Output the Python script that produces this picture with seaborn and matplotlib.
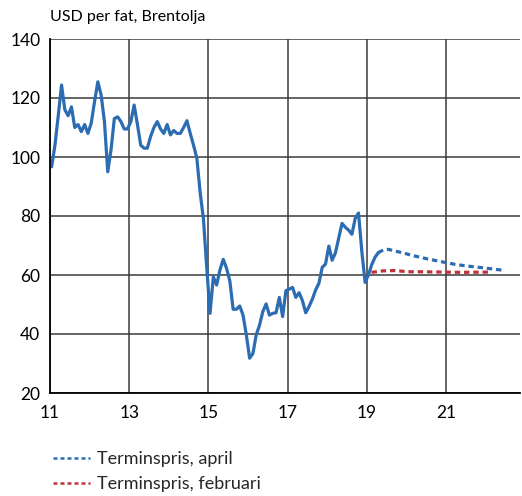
import numpy as np
import pandas as pd
import matplotlib
matplotlib.use("Agg")
import matplotlib.pyplot as plt
import seaborn as sns

# Brent crude, monthly averages Jan 2011 - Apr 2019 (USD per barrel)
brent_2011 = [96.7, 104, 114, 124.4, 116, 114, 117, 110, 111, 108.6, 111, 108]
brent_2012 = [111.5, 118.8, 125.5, 121, 112, 95, 102.5, 113, 113.6, 112, 109.5, 109.5]
brent_2013 = [112, 117.6, 111, 104, 103, 103, 107, 110, 112, 109.5, 108, 111]
brent_2014 = [107.5, 109, 108, 108, 110, 112.3, 108, 104, 99.6, 88, 79, 62.5]
brent_2015 = [47, 59.4, 56.6, 61.7, 65.3, 62.3, 58, 48.4, 48.4, 49.5, 46.4, 39.7]
brent_2016 = [31.8, 33.4, 39.7, 43, 47.6, 50.2, 46.4, 47, 47.2, 52.4, 45.9, 54.7]
brent_2017 = [55.2, 55.8, 52.4, 54, 51.3, 47.2, 49.3, 51.8, 54.9, 57.2, 62.6, 63.7]
brent_2018 = [69.8, 65, 67.5, 72.5, 77.5, 76.2, 75.2, 73.8, 79.2, 81, 68, 57.5]
brent_2019 = [60, 63.5, 66, 67.6]

# Futures curves (time in years, 11 = 2011)
april_t = [19.29, 19.42, 19.54, 19.88, 20.22, 20.55, 20.89, 21.23, 21.56, 21.90, 22.45]
april_v = [67.6, 68.5, 68.7, 67.6, 66.4, 65.4, 64.5, 63.6, 63.0, 62.5, 61.6]
feb_t = [19.12, 19.42, 19.71, 20.05, 20.39, 20.89, 21.40, 22.15]
feb_v = [60.9, 61.4, 61.5, 61.1, 61.1, 61.0, 60.9, 61.0]

x_ticks = [11, 13, 15, 17, 19, 21]
y_ticks = [20, 40, 60, 80, 100, 120, 140]

brent = (brent_2011 + brent_2012 + brent_2013 + brent_2014 + brent_2015
         + brent_2016 + brent_2017 + brent_2018 + brent_2019)
hist = pd.DataFrame({"t": 11 + (np.arange(len(brent)) + 0.5) / 12, "v": brent})
fut_apr = pd.DataFrame({"t": april_t, "v": april_v})
fut_feb = pd.DataFrame({"t": feb_t, "v": feb_v})

sns.set_theme(style="white")
plt.rcParams["font.family"] = ["Lato", "DejaVu Sans"]

BLUE = "#2C6CB2"
RED = "#BE333B"

fig = plt.figure(figsize=(5.22, 4.96), dpi=100)
ax = fig.add_axes([50 / 522, 1 - 393 / 496, 470 / 522, 354 / 496])

dots = (0, (1.7, 1.2))
sns.lineplot(data=fut_feb, x="t", y="v", ax=ax, color=RED, lw=2.3,
             linestyle=dots, label="Terminspris, februari")
sns.lineplot(data=fut_apr, x="t", y="v", ax=ax, color=BLUE, lw=2.3,
             linestyle=dots, label="Terminspris, april")
sns.lineplot(data=hist, x="t", y="v", ax=ax, color=BLUE, lw=2.3,
             label="_nolegend_")
for ln in ax.get_lines():
    ln.set_dash_capstyle("butt")

ax.set_xlim(11, 22.87)
ax.set_ylim(20, 140)
ax.set_xticks(x_ticks)
ax.set_yticks(y_ticks)
ax.set_xlabel("")
ax.set_ylabel("")
ax.grid(True, color="#3a3a3a", lw=1.1)
ax.set_axisbelow(True)
for side in ["top", "right"]:
    ax.spines[side].set_visible(False)
for side in ["left", "bottom"]:
    ax.spines[side].set_color("black")
    ax.spines[side].set_linewidth(1.3)
ax.tick_params(axis="both", length=0, labelsize=12.5, colors="black")
ax.tick_params(axis="y", pad=7)
ax.tick_params(axis="x", pad=9)

fig.text(50 / 522, 1 - 17 / 496, "USD per fat, Brentolja", fontsize=11.5,
         va="center", ha="left", color="black")

handles, labels = ax.get_legend_handles_labels()
order = [labels.index("Terminspris, april"), labels.index("Terminspris, februari")]
leg = ax.legend([handles[i] for i in order], [labels[i] for i in order],
                loc="upper left", bbox_to_anchor=(53 / 522, 1 - 451 / 496),
                bbox_transform=fig.transFigure, frameon=False, fontsize=13,
                handlelength=2.05, handletextpad=0.4, labelspacing=0.5,
                borderaxespad=0, borderpad=0)
for h in leg.get_lines():
    h.set_linewidth(1.8)
    h.set_linestyle((0, (1.6, 1.2)))
    h.set_dash_capstyle("butt")

fig.savefig("out.png", dpi=100)
